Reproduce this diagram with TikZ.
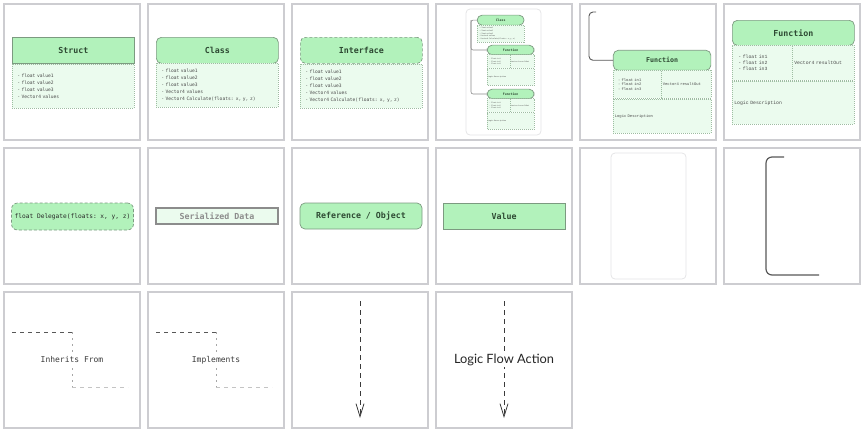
\documentclass[tikz,border=0pt]{standalone}
\usepackage{fontspec}
\setmonofont{DejaVu Sans Mono}
\newfontfamily\cellfont{Liberation Mono}
\newfontfamily\flowfont{Lato}
\usetikzlibrary{arrows.meta,positioning}
\definecolor{tilegray}{HTML}{CDCDD1}
\definecolor{hdrfill}{HTML}{B2F2BB}
\definecolor{hdredge}{HTML}{7C9A80}
\definecolor{bodyfill}{HTML}{EBFBEE}
\definecolor{bodyedge}{HTML}{9EBDA2}
\definecolor{hdrink}{HTML}{2E4A33}
\definecolor{txtgray}{HTML}{4A4A4A}
\definecolor{ink}{HTML}{3A3A3A}
\definecolor{boxgray}{HTML}{E4E4E6}
\definecolor{sergray}{HTML}{8C8C8C}
\tikzset{
  tile/.style={draw=tilegray, line width=1.4pt},
  hdr/.style={draw=hdredge, fill=hdrfill, line width=0.7pt, minimum width=122pt, minimum height=26pt, inner sep=0pt, text=hdrink, font=\ttfamily\bfseries\fontsize{8.3}{10}\selectfont},
  bodybox/.style={draw=bodyedge, fill=bodyfill, dash pattern=on 1pt off 1pt, line width=0.6pt, minimum width=122pt, text width=112pt, inner xsep=5pt, inner ysep=0pt, align=left, text=txtgray, font=\ttfamily\fontsize{4.6}{7}\selectfont},
  cell/.style={draw=bodyedge, fill=bodyfill, dash pattern=on 1pt off 1pt, line width=0.6pt, anchor=north west, inner xsep=2pt, inner ysep=0pt, align=left, text=txtgray, font=\cellfont\fontsize{4.8}{5.6}\selectfont},
  container/.style={draw=boxgray, line width=0.8pt, rounded corners=4pt, minimum width=75pt, minimum height=126pt},
  link/.style={draw=sergray, line width=0.6pt, rounded corners=2pt},
  bracket/.style={draw=ink!85, line width=0.9pt, rounded corners=4pt},
  lbl/.style={fill=white, inner sep=1pt, text=ink, font=\ttfamily\fontsize{8}{10}\selectfont},
  flow/.style={draw=ink, line width=0.8pt, dash pattern=on 5pt off 4pt, -{Straight Barb[length=13pt, width=8pt]}},
  clspic/.pic={
    \node[hdr, rounded corners=5pt, anchor=north west] (-head) at (0,0) {Class};
    \node[bodybox, anchor=north west, minimum height=44pt] (-body) at (0,26) {- float value1\\- float value2\\- float value3\\- Vector4 values\\- Vector4 Calculate(floats: x, y, z)};
  },
  fnpic/.pic={
    \node[hdr, rounded corners=5pt, minimum height=25pt, anchor=north west] (-head) at (0,0) {Function};
    \node[cell, text width=48pt, inner xsep=6pt, minimum height=35pt] (-in) at (0,25) {- float in1\\- float in2\\- float in3};
    \node[cell, text width=58pt, minimum height=35pt] (-out) at (60,25) {Vector4 resultOut};
    \node[cell, text width=118pt, minimum height=43pt] (-logic) at (0,61) {Logic Description};
  },
}
\begin{document}
\begin{tikzpicture}[x=1pt, y=-1pt]
  \useasboundingbox (0,0) rectangle (864,432);
  \foreach \r/\n in {0/5, 1/5, 2/3}
    \foreach \c in {0,...,\n}
      \draw[tile] (4+144*\c, 4+144*\r) rectangle ++(136,136);

  \node[hdr, anchor=north west] (structhead) at (12,37) {Struct};
  \node[bodybox, below=0pt of structhead, minimum height=44pt] (structbody) {- float value1\\- float value2\\- float value3\\- Vector4 values};

  \pic (cls) at (156,37) {clspic};

  \node[hdr, rounded corners=5pt, dash pattern=on 3pt off 2pt, anchor=north west] (ifacehead) at (300,37) {Interface};
  \node[bodybox, below=0pt of ifacehead, minimum height=44pt] (ifacebody) {- float value1\\- float value2\\- float value3\\- Vector4 values\\- Vector4 Calculate(floats: x, y, z)};

  \node[container] (ovbox) at (503.5,72) {};
  \pic[scale=0.385, transform shape] (ovc) at (477,15) {clspic};
  \pic[scale=0.385, transform shape] (ovfa) at (487,45) {fnpic};
  \pic[scale=0.385, transform shape] (ovfb) at (487,89) {fnpic};
  \draw[link] (ovc-head.west) -- ++(-6,0) coordinate (ovbus) |- (ovfa-head.west);
  \draw[link] (ovbus) |- (ovfb-head.west);

  \coordinate (fnstub) at (596,12);
  \pic[scale=0.8, transform shape] (fnp) at (613,50) {fnpic};
  \draw[bracket] (fnstub) -- ++(-7,0) |- (fnp-head.west);

  \pic (fn) at (732,20) {fnpic};

  \node[hdr, rounded corners=6pt, dash pattern=on 3pt off 2pt, minimum height=27pt, text=black!85, font=\ttfamily\fontsize{6.2}{7}\selectfont] (dlg) at (72.5,216.5) {float Delegate(floats: x, y, z)};
  \node[hdr, draw=sergray, fill=bodyfill, line width=1.2pt, minimum height=16pt, text=sergray] (ser) at (217,216) {Serialized Data};
  \node[hdr, rounded corners=5pt] (refobj) at (361,216) {Reference / Object};
  \node[hdr] (val) at (504,216) {Value};

  \node[container] (blank) at (648.5,216) {};
  \coordinate (brtop) at (784,157);
  \coordinate (brend) at (819,275);
  \draw[bracket, line width=1.2pt, rounded corners=6pt] (brtop) -| (766,216) |- (brend);

  \foreach \x/\t/\nm in {0/Inherits From/inh, 144/Implements/impl} {
    \coordinate (\nm A) at (12+\x,332);
    \coordinate (\nm K) at (72+\x,332);
    \coordinate (\nm L) at (72+\x,387);
    \coordinate (\nm B) at (128+\x,387);
    \draw[ink!85, line width=0.8pt, dash pattern=on 4pt off 4pt] (\nm A) -- (\nm K);
    \draw[ink!45, line width=0.7pt, dash pattern=on 2pt off 4pt] (\nm K) -- (\nm L);
    \draw[ink!30, line width=0.8pt, dash pattern=on 4pt off 4pt] (\nm L) -- (\nm B);
    \node[lbl] (\nm lbl) at (72+\x,360) {\t};
  }

  \coordinate (flowAtop) at (360,301);
  \coordinate (flowAend) at (360,418);
  \draw[flow] (flowAtop) -- (flowAend);
  \coordinate (flowBtop) at (504,301);
  \coordinate (flowBend) at (504,418);
  \draw[flow] (flowBtop) -- (flowBend);
  \node[lbl, text=black!85, font=\flowfont\fontsize{12.8}{15}\selectfont] (flowBlbl) at (504,360) {Logic Flow Action};
\end{tikzpicture}
\end{document}
